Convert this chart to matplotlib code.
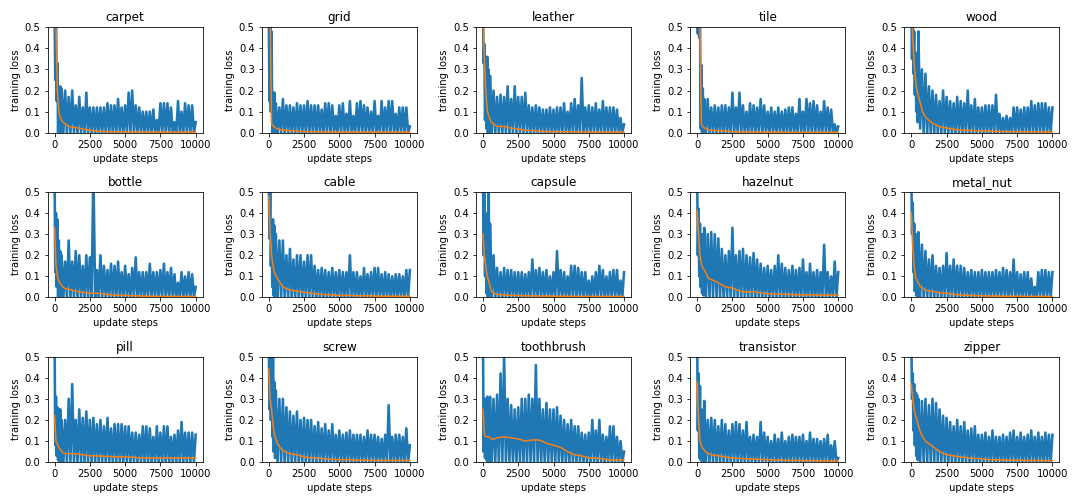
import numpy as np
import matplotlib
matplotlib.use("Agg")
import matplotlib.pyplot as plt

# panel names, in grid order (3 rows x 5 columns)
categories = ["carpet", "grid", "leather", "tile", "wood",
              "bottle", "cable", "capsule", "hazelnut", "metal_nut",
              "pill", "screw", "toothbrush", "transistor", "zipper"]

peak_steps = [0, 100, 200, 300, 400, 500] + list(range(750, 10001, 250))
smooth_steps = [0, 100, 200, 300, 400, 600, 800] + list(range(1000, 10001, 500))

# raw loss: spike tops (one per peak step)
carpet_peak = [0.6, 0.6, 0.33, 0.2, 0.22, 0.21, 0.2, 0.17, 0.2, 0.13, 0.17, 0.12, 0.19, 0.12, 0.12, 0.12,
               0.12, 0.12, 0.14, 0.13, 0.13, 0.16, 0.12, 0.13, 0.19, 0.2, 0.13, 0.12, 0.1, 0.1,
               0.1, 0.11, 0.06, 0.14, 0.14, 0.14, 0.12, 0.05, 0.15, 0.1, 0.14, 0.13, 0.13, 0.05]
grid_peak = [0.6, 0.6, 0.48, 0.19, 0.19, 0.14, 0.12, 0.16, 0.13, 0.13, 0.12, 0.14, 0.13, 0.13, 0.15, 0.13,
             0.13, 0.13, 0.11, 0.14, 0.14, 0.13, 0.08, 0.13, 0.14, 0.09, 0.15, 0.08, 0.14, 0.15,
             0.13, 0.12, 0.1, 0.15, 0.08, 0.15, 0.12, 0.15, 0.15, 0.09, 0.12, 0.12, 0.12, 0.03]
leather_peak = [0.6, 0.42, 0.35, 0.36, 0.3, 0.27, 0.2, 0.17, 0.18, 0.17, 0.22, 0.16, 0.22, 0.17, 0.17, 0.19,
                0.13, 0.12, 0.13, 0.12, 0.11, 0.11, 0.12, 0.11, 0.12, 0.12, 0.14, 0.1, 0.14, 0.16,
                0.13, 0.26, 0.12, 0.13, 0.12, 0.14, 0.11, 0.15, 0.12, 0.12, 0.12, 0.11, 0.07, 0.04]
tile_peak = [0.6, 0.6, 0.6, 0.32, 0.21, 0.16, 0.16, 0.12, 0.13, 0.12, 0.13, 0.13, 0.12, 0.19, 0.12, 0.19,
             0.13, 0.1, 0.14, 0.13, 0.12, 0.16, 0.13, 0.1, 0.12, 0.1, 0.12, 0.1, 0.11, 0.12,
             0.12, 0.09, 0.16, 0.1, 0.16, 0.14, 0.15, 0.13, 0.1, 0.15, 0.12, 0.11, 0.04, 0.03]
wood_peak = [0.6, 0.6, 0.48, 0.38, 0.35, 0.48, 0.3, 0.28, 0.22, 0.2, 0.18, 0.15, 0.2, 0.17, 0.15, 0.14,
             0.17, 0.15, 0.14, 0.2, 0.13, 0.16, 0.12, 0.12, 0.13, 0.13, 0.13, 0.18, 0.09, 0.07,
             0.08, 0.07, 0.12, 0.12, 0.11, 0.12, 0.12, 0.15, 0.13, 0.14, 0.14, 0.14, 0.12, 0.12]
bottle_peak = [0.6, 0.4, 0.37, 0.27, 0.22, 0.2, 0.17, 0.27, 0.17, 0.22, 0.2, 0.15, 0.2, 0.19, 0.6, 0.13,
               0.2, 0.15, 0.13, 0.16, 0.15, 0.17, 0.12, 0.15, 0.11, 0.14, 0.19, 0.12, 0.12, 0.12,
               0.16, 0.12, 0.12, 0.13, 0.16, 0.12, 0.14, 0.11, 0.07, 0.12, 0.1, 0.12, 0.11, 0.05]
cable_peak = [0.6, 0.5, 0.35, 0.37, 0.34, 0.3, 0.27, 0.27, 0.2, 0.23, 0.18, 0.2, 0.2, 0.17, 0.2, 0.2,
              0.15, 0.13, 0.14, 0.13, 0.12, 0.14, 0.12, 0.13, 0.12, 0.12, 0.2, 0.12, 0.12, 0.1,
              0.14, 0.11, 0.12, 0.14, 0.14, 0.11, 0.12, 0.11, 0.1, 0.11, 0.11, 0.1, 0.13, 0.13]
capsule_peak = [0.6, 0.5, 0.4, 0.3, 0.6, 0.35, 0.2, 0.14, 0.12, 0.14, 0.13, 0.13, 0.12, 0.12, 0.12, 0.11,
                0.12, 0.18, 0.13, 0.14, 0.12, 0.13, 0.1, 0.12, 0.22, 0.13, 0.12, 0.1, 0.15, 0.15,
                0.14, 0.12, 0.12, 0.08, 0.1, 0.12, 0.15, 0.13, 0.1, 0.12, 0.13, 0.13, 0.08, 0.12]
hazelnut_peak = [0.6, 0.42, 0.35, 0.3, 0.3, 0.33, 0.3, 0.31, 0.3, 0.28, 0.23, 0.2, 0.22, 0.33, 0.2, 0.22,
                 0.23, 0.2, 0.19, 0.21, 0.18, 0.16, 0.14, 0.15, 0.13, 0.15, 0.2, 0.16, 0.14, 0.13,
                 0.15, 0.13, 0.14, 0.18, 0.12, 0.16, 0.12, 0.13, 0.12, 0.25, 0.12, 0.1, 0.17, 0.12]
metal_nut_peak = [0.6, 0.45, 0.35, 0.29, 0.3, 0.31, 0.25, 0.22, 0.18, 0.2, 0.15, 0.14, 0.15, 0.21, 0.15, 0.18,
                  0.15, 0.15, 0.14, 0.12, 0.13, 0.12, 0.12, 0.13, 0.12, 0.12, 0.12, 0.13, 0.12, 0.14,
                  0.13, 0.12, 0.18, 0.12, 0.11, 0.12, 0.12, 0.09, 0.05, 0.12, 0.13, 0.13, 0.12, 0.12]
pill_peak = [0.6, 0.31, 0.26, 0.25, 0.25, 0.2, 0.2, 0.3, 0.37, 0.2, 0.25, 0.21, 0.24, 0.2, 0.21, 0.18,
             0.2, 0.17, 0.21, 0.16, 0.18, 0.18, 0.18, 0.17, 0.17, 0.14, 0.14, 0.13, 0.17, 0.17,
             0.16, 0.12, 0.17, 0.14, 0.17, 0.17, 0.12, 0.13, 0.15, 0.19, 0.14, 0.14, 0.14, 0.13]
screw_peak = [0.6, 0.6, 0.6, 0.5, 0.38, 0.34, 0.3, 0.3, 0.26, 0.24, 0.22, 0.24, 0.2, 0.21, 0.2, 0.2,
              0.17, 0.19, 0.16, 0.18, 0.15, 0.18, 0.13, 0.15, 0.13, 0.14, 0.15, 0.13, 0.13, 0.13,
              0.12, 0.15, 0.13, 0.13, 0.12, 0.11, 0.13, 0.27, 0.12, 0.13, 0.13, 0.12, 0.16, 0.08]
toothbrush_peak = [0.6, 0.3, 0.28, 0.31, 0.28, 0.31, 0.3, 0.32, 0.42, 0.5, 0.3, 0.27, 0.25, 0.26, 0.3, 0.3,
                   0.32, 0.3, 0.46, 0.3, 0.25, 0.28, 0.25, 0.25, 0.26, 0.22, 0.2, 0.18, 0.2, 0.17,
                   0.17, 0.14, 0.13, 0.14, 0.2, 0.15, 0.2, 0.13, 0.12, 0.17, 0.17, 0.12, 0.1, 0.05]
transistor_peak = [0.6, 0.42, 0.36, 0.25, 0.22, 0.29, 0.2, 0.21, 0.2, 0.17, 0.2, 0.18, 0.15, 0.18, 0.19, 0.18,
                   0.15, 0.19, 0.12, 0.13, 0.12, 0.19, 0.14, 0.12, 0.1, 0.13, 0.11, 0.14, 0.1, 0.12,
                   0.13, 0.12, 0.12, 0.13, 0.1, 0.14, 0.11, 0.11, 0.1, 0.11, 0.13, 0.08, 0.1, 0.02]
zipper_peak = [0.6, 0.42, 0.37, 0.33, 0.32, 0.3, 0.29, 0.3, 0.27, 0.3, 0.28, 0.25, 0.22, 0.21, 0.19, 0.17,
               0.2, 0.17, 0.19, 0.15, 0.16, 0.17, 0.13, 0.13, 0.14, 0.12, 0.15, 0.12, 0.12, 0.13,
               0.12, 0.14, 0.15, 0.12, 0.14, 0.12, 0.13, 0.15, 0.12, 0.14, 0.12, 0.14, 0.13, 0.13]

# raw loss: dips between the first spikes (later dips sit at zero)
carpet_low = [0.25, 0.15]
grid_low = [0.15, 0.1]
leather_low = [0.33, 0.06, 0.02]
tile_low = [0.47, 0.45, 0.02]
wood_low = [0.35, 0.28, 0.18, 0.1, 0.05, 0.02]
bottle_low = [0.12, 0.05]
cable_low = [0.28, 0.15, 0.05, 0.01]
capsule_low = [0.2, 0.1, 0.02]
hazelnut_low = [0.2, 0.1, 0.05, 0.02, 0.01]
metal_nut_low = [0.3, 0.12, 0.03, 0.01]
pill_low = [0.08, 0.03, 0.01]
screw_low = [0.25, 0.2, 0.12, 0.05, 0.02]
toothbrush_low = [0.05, 0.02, 0.01]
transistor_low = [0.15, 0.02, 0.01]
zipper_low = [0.3, 0.15, 0.08, 0.03, 0.01]

# smoothed loss (one per smooth step)
carpet_smooth = [0.6, 0.5, 0.2, 0.1, 0.07, 0.05, 0.04, 0.03, 0.025, 0.018, 0.012, 0.008, 0.006,
                 0.005, 0.005, 0.004, 0.004, 0.004, 0.004, 0.003, 0.003, 0.003, 0.003, 0.003, 0.003, 0.003]
grid_smooth = [0.6, 0.55, 0.04, 0.035, 0.025, 0.02, 0.015, 0.012, 0.01, 0.008, 0.006, 0.005, 0.004,
               0.004, 0.004, 0.004, 0.003, 0.003, 0.003, 0.003, 0.003, 0.003, 0.003, 0.003, 0.003, 0.003]
leather_smooth = [0.6, 0.35, 0.2, 0.11, 0.08, 0.05, 0.04, 0.03, 0.03, 0.022, 0.017, 0.012, 0.01,
                  0.008, 0.006, 0.005, 0.005, 0.005, 0.004, 0.004, 0.004, 0.003, 0.003, 0.003, 0.003, 0.003]
tile_smooth = [0.6, 0.6, 0.5, 0.04, 0.03, 0.02, 0.015, 0.012, 0.01, 0.008, 0.006, 0.004, 0.004,
               0.003, 0.003, 0.003, 0.003, 0.002, 0.002, 0.002, 0.002, 0.002, 0.002, 0.002, 0.002, 0.002]
wood_smooth = [0.6, 0.45, 0.33, 0.25, 0.2, 0.15, 0.1, 0.075, 0.045, 0.03, 0.022, 0.017, 0.013,
               0.011, 0.01, 0.009, 0.008, 0.007, 0.006, 0.006, 0.005, 0.005, 0.005, 0.004, 0.004, 0.004]
bottle_smooth = [0.33, 0.15, 0.1, 0.08, 0.065, 0.05, 0.04, 0.04, 0.03, 0.025, 0.02, 0.02, 0.017,
                 0.012, 0.01, 0.01, 0.008, 0.008, 0.006, 0.006, 0.005, 0.005, 0.005, 0.005, 0.005, 0.005]
cable_smooth = [0.48, 0.3, 0.2, 0.15, 0.12, 0.09, 0.07, 0.05, 0.035, 0.03, 0.025, 0.02, 0.017,
                0.013, 0.012, 0.01, 0.01, 0.009, 0.008, 0.008, 0.007, 0.006, 0.006, 0.006, 0.006, 0.006]
capsule_smooth = [0.3, 0.2, 0.15, 0.1, 0.08, 0.03, 0.02, 0.015, 0.012, 0.01, 0.01, 0.008, 0.008,
                  0.007, 0.007, 0.006, 0.006, 0.006, 0.005, 0.005, 0.005, 0.005, 0.005, 0.005, 0.005, 0.005]
hazelnut_smooth = [0.41, 0.3, 0.2, 0.16, 0.14, 0.12, 0.09, 0.085, 0.07, 0.05, 0.045, 0.03, 0.025,
                   0.028, 0.022, 0.018, 0.017, 0.015, 0.015, 0.013, 0.012, 0.012, 0.012, 0.011, 0.012, 0.012]
metal_nut_smooth = [0.4, 0.25, 0.15, 0.1, 0.08, 0.055, 0.045, 0.035, 0.028, 0.022, 0.02, 0.015, 0.012,
                    0.01, 0.009, 0.008, 0.007, 0.007, 0.006, 0.006, 0.006, 0.005, 0.005, 0.005, 0.005, 0.005]
pill_smooth = [0.22, 0.1, 0.085, 0.07, 0.06, 0.045, 0.04, 0.04, 0.04, 0.035, 0.03, 0.03, 0.028,
               0.027, 0.025, 0.025, 0.024, 0.02, 0.02, 0.02, 0.02, 0.02, 0.02, 0.02, 0.02, 0.02]
screw_smooth = [0.44, 0.3, 0.25, 0.18, 0.13, 0.09, 0.07, 0.055, 0.04, 0.035, 0.025, 0.02, 0.02,
                0.015, 0.013, 0.012, 0.012, 0.01, 0.01, 0.009, 0.009, 0.008, 0.008, 0.008, 0.008, 0.008]
toothbrush_smooth = [0.25, 0.13, 0.12, 0.12, 0.12, 0.11, 0.11, 0.115, 0.12, 0.115, 0.11, 0.1, 0.105,
                     0.105, 0.09, 0.08, 0.07, 0.05, 0.035, 0.03, 0.02, 0.02, 0.015, 0.01, 0.01, 0.012]
transistor_smooth = [0.38, 0.2, 0.1, 0.08, 0.065, 0.05, 0.04, 0.035, 0.03, 0.025, 0.02, 0.018, 0.015,
                     0.015, 0.013, 0.012, 0.01, 0.01, 0.009, 0.008, 0.008, 0.007, 0.007, 0.006, 0.006, 0.006]
zipper_smooth = [0.37, 0.3, 0.25, 0.22, 0.2, 0.15, 0.12, 0.1, 0.075, 0.05, 0.035, 0.03, 0.025,
                 0.02, 0.018, 0.015, 0.012, 0.012, 0.01, 0.01, 0.009, 0.008, 0.008, 0.008, 0.007, 0.007]

peaks = [carpet_peak, grid_peak, leather_peak, tile_peak, wood_peak,
         bottle_peak, cable_peak, capsule_peak, hazelnut_peak, metal_nut_peak,
         pill_peak, screw_peak, toothbrush_peak, transistor_peak, zipper_peak]
lows = [carpet_low, grid_low, leather_low, tile_low, wood_low,
        bottle_low, cable_low, capsule_low, hazelnut_low, metal_nut_low,
        pill_low, screw_low, toothbrush_low, transistor_low, zipper_low]
smooths = [carpet_smooth, grid_smooth, leather_smooth, tile_smooth, wood_smooth,
           bottle_smooth, cable_smooth, capsule_smooth, hazelnut_smooth, metal_nut_smooth,
           pill_smooth, screw_smooth, toothbrush_smooth, transistor_smooth, zipper_smooth]

fig, axes = plt.subplots(3, 5, figsize=(15, 7), dpi=72)
fig.subplots_adjust(left=0.044, right=0.981, top=0.946, bottom=0.083, wspace=0.38, hspace=0.56)

ps = np.array(peak_steps, dtype=float)
mid = (ps[:-1] + ps[1:]) / 2

for ax, name, pk, lo, sm in zip(axes.flat, categories, peaks, lows, smooths):
    dips = np.zeros(len(mid))
    dips[:len(lo)] = lo
    # spikes and dips alternate, so the raw curve zig-zags like the logged loss
    x = np.empty(len(ps) + len(mid))
    y = np.empty_like(x)
    x[0::2] = ps
    x[1::2] = mid
    y[0::2] = pk
    y[1::2] = dips
    ax.plot(x, y, color="C0", lw=2.6, solid_joinstyle="round")
    ax.plot(smooth_steps, sm, color="C1", lw=1.5)
    ax.set_ylim(0, 0.5)
    ax.set_title(name)
    ax.set_xlabel("update steps")
    ax.set_ylabel("training loss")

fig.savefig("out.png")
